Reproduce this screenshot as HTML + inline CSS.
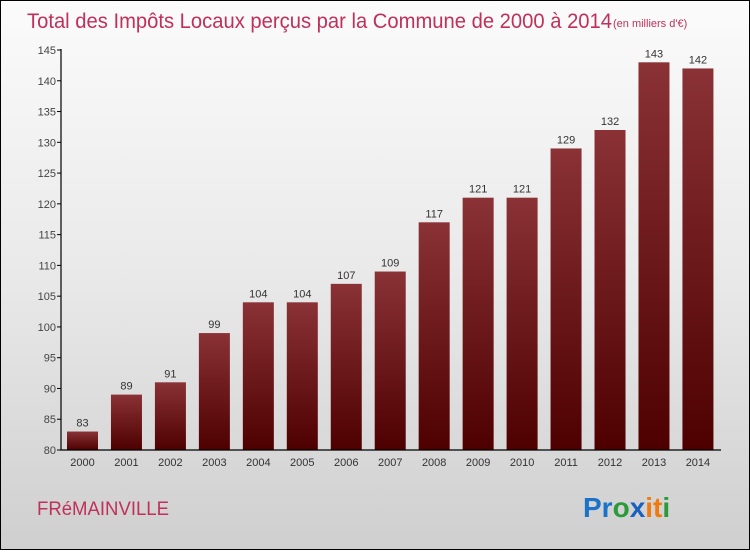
<!DOCTYPE html>
<html><head><meta charset="utf-8"><style>
body{margin:0;width:750px;height:550px;overflow:hidden}
#c{position:relative;width:748px;height:548px;border:1px solid #000;background:linear-gradient(#fbfbfb,#e9e9e9 50%,#cfcfcf)}
text{font-family:"Liberation Sans",sans-serif}
</style></head><body>
<div id="c">
<svg id="s" width="748" height="548">
<defs><linearGradient id="g" x1="0" y1="0" x2="0" y2="1"><stop offset="0" stop-color="#8a3236"/><stop offset="1" stop-color="#4e0000"/></linearGradient></defs>
<text x="26" y="27" font-size="21" fill="#c0305a" textLength="585" lengthAdjust="spacingAndGlyphs">Total des Impôts Locaux perçus par la Commune de 2000 à 2014</text>
<text x="612" y="26" font-size="11" fill="#c0305a">(en milliers d'€)</text>
<text x="36" y="514" font-size="19" fill="#c0305a" textLength="132" lengthAdjust="spacingAndGlyphs">FRéMAINVILLE</text>
<text x="582" y="516" font-size="28" font-weight="bold"><tspan fill="#1a73c8">Pr</tspan><tspan fill="#2a9a3a">o</tspan><tspan fill="#1a60c0">x</tspan><tspan fill="#f07a10">it</tspan><tspan fill="#2a9a3a">i</tspan></text>
<g id="plot"></g>
</svg></div>
<script>
const years=["2000","2001","2002","2003","2004","2005","2006","2007","2008","2009","2010","2011","2012","2013","2014"];
const values=[83,89,91,99,104,104,107,109,117,121,121,129,132,143,142];
const yTicks=[80,85,90,95,100,105,110,115,120,125,130,135,140,145];
const NS="http://www.w3.org/2000/svg",p=document.getElementById('plot');
const y=v=>449-(v-80)*(400/65), x=i=>81.5+i*43.96;
function mk(t,a,txt){const e=document.createElementNS(NS,t);for(const k in a)e.setAttribute(k,a[k]);if(txt!=null)e.textContent=txt;p.appendChild(e);return e;}
yTicks.forEach(v=>{const t=mk('text',{x:55,y:y(v)+4,'font-size':11,fill:'#444','text-anchor':'end'},v);


const l=mk('line',{x1:56,x2:60,y1:y(v),y2:y(v),stroke:'#000'});

});
values.forEach((v,i)=>{const r=mk('rect',{x:x(i)-15.5,y:y(v),width:31,height:y(80)-y(v),fill:'url(#g)'});


const t=mk('text',{x:x(i),y:y(v)-5,'font-size':11,fill:'#333','text-anchor':'middle'},v);


const xl=mk('text',{x:x(i),y:465,'font-size':11,fill:'#333','text-anchor':'middle'},years[i]);

});
const ax=mk('path',{d:'M60 48V449H720',stroke:'#000',fill:'none','stroke-width':1.2});


</script>
</body></html>
